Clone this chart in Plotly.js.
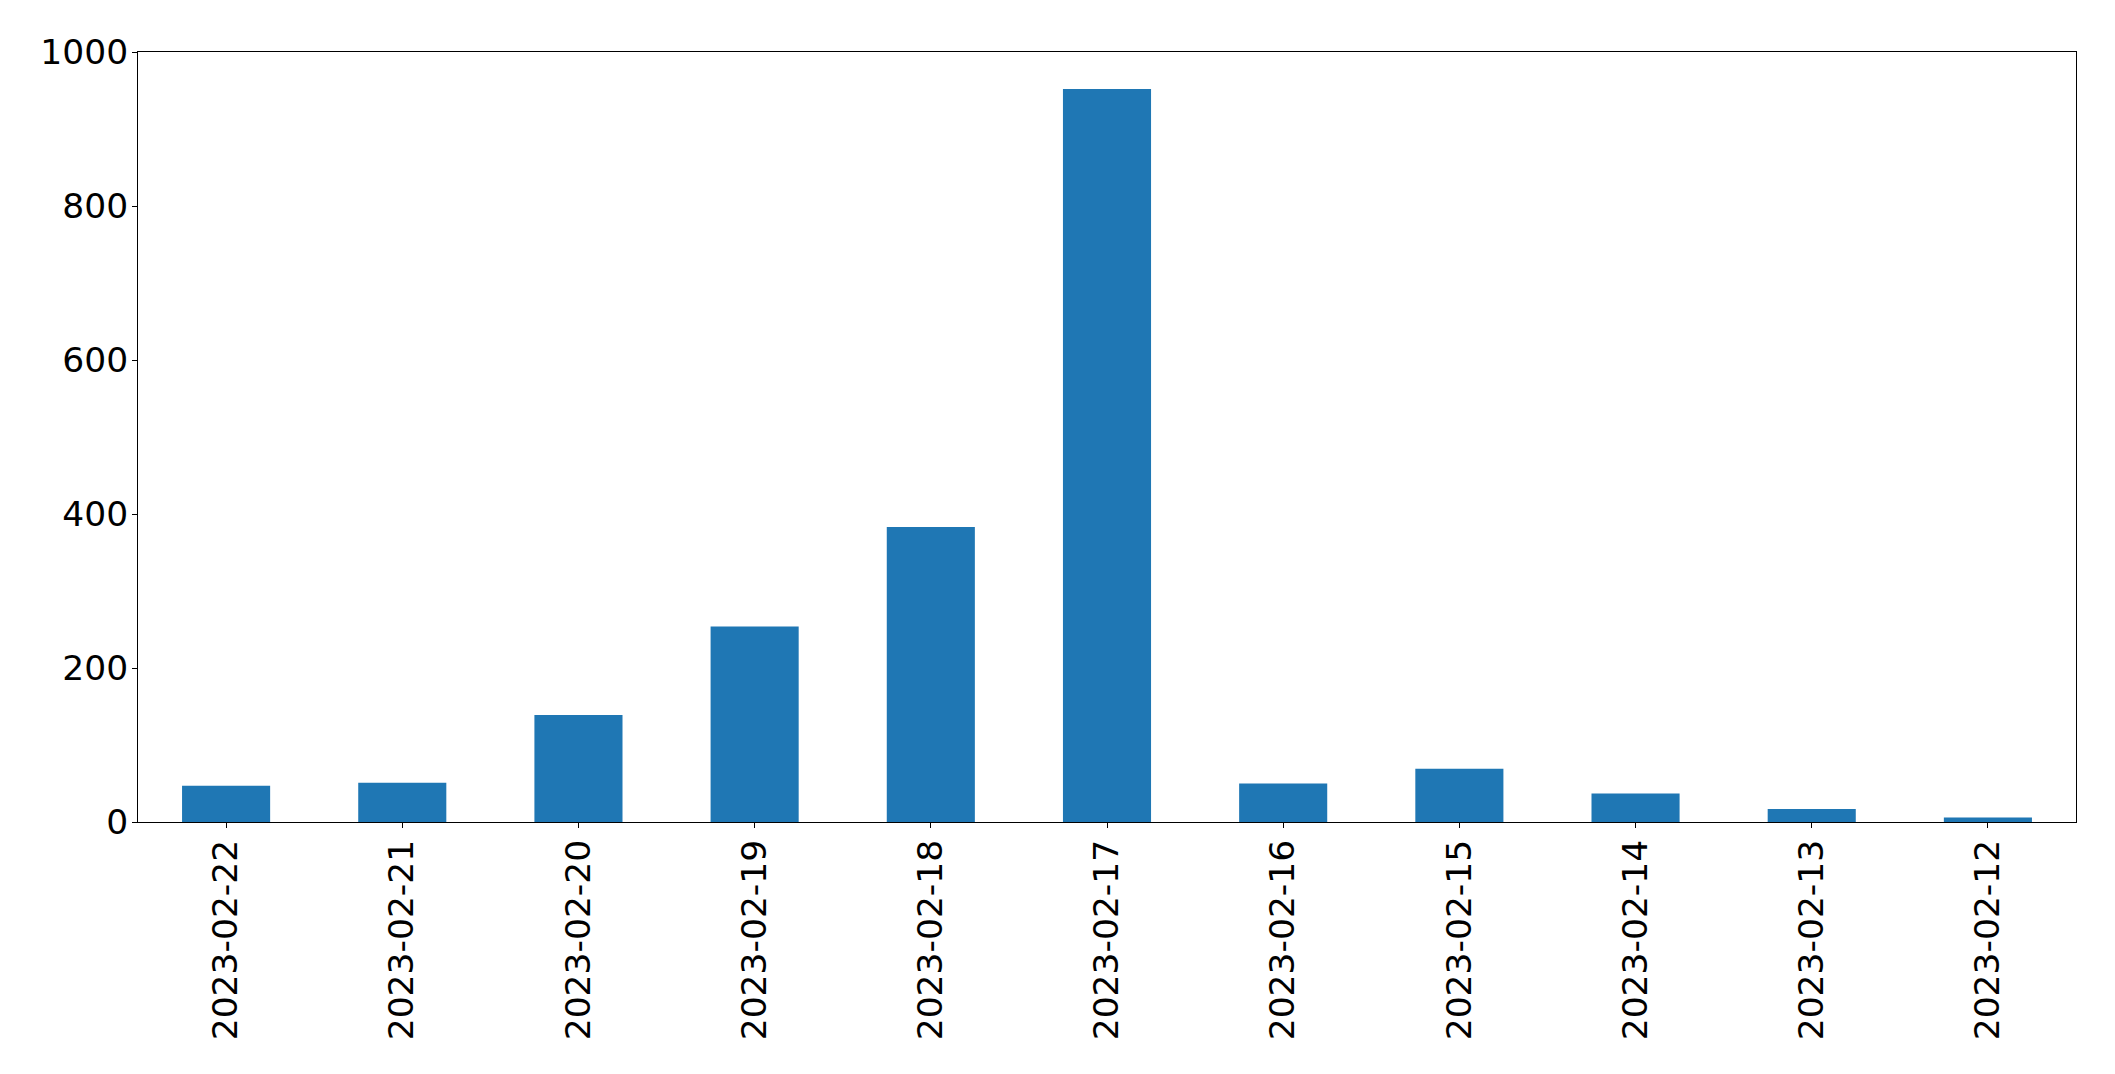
<!DOCTYPE html>
<html>
<head>
<meta charset="utf-8">
<script src="https://cdn.plot.ly/plotly-3.0.1.min.js"></script>
<style>html,body{margin:0;padding:0;background:#fff;}</style>
</head>
<body>
<div id="chart" style="width:2115px;height:1074px;"></div>
<script>
const dates = ["2023-02-22","2023-02-21","2023-02-20","2023-02-19","2023-02-18","2023-02-17","2023-02-16","2023-02-15","2023-02-14","2023-02-13","2023-02-12"];
const counts = [47, 51, 139, 254, 383, 952, 50, 69, 37, 17, 6];
const yTicks = [0, 200, 400, 600, 800, 1000];

const trace = {
  type: 'bar',
  x: dates,
  y: counts,
  marker: {color: '#1f77b4', line: {width: 0}},
  hoverinfo: 'x+y'
};

const font = {family: 'DejaVu Sans', size: 34.5, color: '#000'};

const layout = {
  width: 2115,
  height: 1074,
  margin: {l: 138, r: 39, t: 52, b: 252, pad: 0},
  paper_bgcolor: '#fff',
  plot_bgcolor: '#fff',
  showlegend: false,
  bargap: 0.5,
  font: font,
  xaxis: {
    type: 'category',
    range: [-0.5, dates.length - 0.5],
    tickangle: -90,
    ticks: 'outside',
    ticklen: 5,
    tickwidth: 1,
    tickcolor: '#000',
    showline: true,
    linecolor: '#000',
    linewidth: 1,
    mirror: true,
    showgrid: false,
    zeroline: false,
    ticklabelstandoff: -2,
    tickfont: font
  },
  yaxis: {
    range: [0, 1000],
    tickvals: yTicks,
    ticktext: yTicks.map(String),
    ticks: 'outside',
    ticklen: 5,
    tickwidth: 1,
    tickcolor: '#000',
    showline: true,
    linecolor: '#000',
    linewidth: 1,
    mirror: true,
    showgrid: false,
    zeroline: false,
    ticklabelstandoff: -3,
    tickfont: font
  }
};

Plotly.newPlot('chart', [trace], layout, {staticPlot: true, displayModeBar: false});
</script>
</body>
</html>
